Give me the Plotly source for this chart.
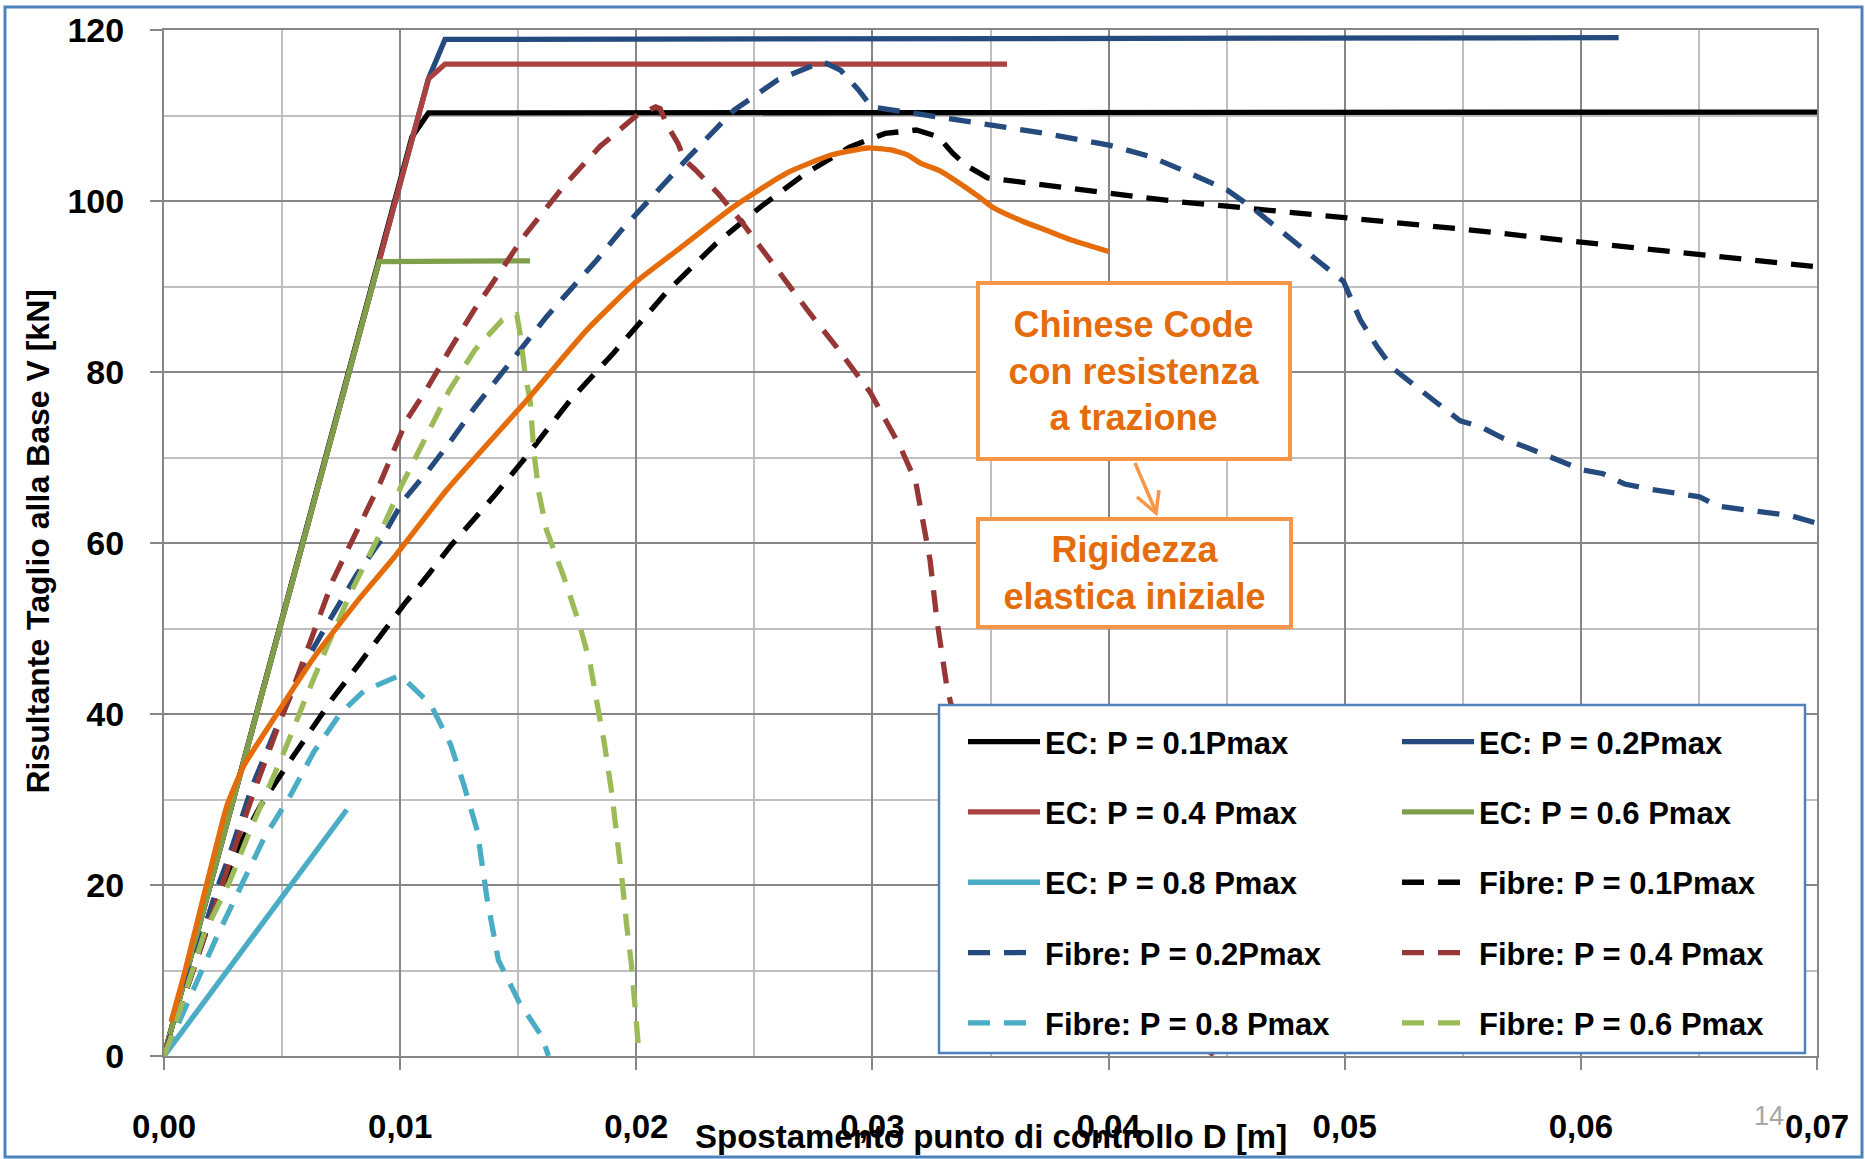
import plotly.graph_objects as go

# ---------------- data ----------------
ec01_x = [0, 0.0105, 0.0112, 0.0400, 0.0700]
ec01_y = [0, 107.5, 110.3, 110.3, 110.4]

ec02_x = [0, 0.0112, 0.0119, 0.0400, 0.0616]
ec02_y = [0, 114.3, 118.9, 119.0, 119.1]

ec04_x = [0, 0.0112, 0.0119, 0.0357]
ec04_y = [0, 114.3, 116.0, 116.0]

ec06_x = [0, 0.0091, 0.0155]
ec06_y = [0, 92.9, 93.0]

ec08_x = [0, 0.00774]
ec08_y = [0, 28.8]

f01_x = [0, 0.00113, 0.00212, 0.00313, 0.00409, 0.00515, 0.00617, 0.00716, 0.00822,
         0.0092, 0.01019, 0.01122, 0.01218, 0.01395, 0.01522, 0.0172, 0.01903, 0.0213,
         0.02337, 0.02526, 0.02715, 0.02903, 0.03054, 0.03186, 0.0328, 0.0334, 0.03394,
         0.03488, 0.03733, 0.03997, 0.04299, 0.04501, 0.05001, 0.05501, 0.06, 0.06503, 0.07]
f01_y = [0, 9.1, 17.3, 24.3, 29.3, 33.75, 38.0, 41.9, 45.7,
         49.4, 52.9, 56.4, 59.8, 65.4, 69.7, 76.7, 82.2, 89.4,
         95.0, 99.3, 103.2, 106.3, 107.9, 108.3, 107.5, 105.6, 104.2,
         102.7, 101.9, 100.9, 99.9, 99.4, 98.1, 96.7, 95.2, 93.8, 92.3]

f02_x = [0, 0.00116, 0.00222, 0.00271, 0.00374, 0.0049, 0.0061, 0.00706, 0.00815, 0.00915,
         0.01014, 0.0112, 0.01211, 0.01317, 0.01423, 0.01522, 0.01621, 0.0172, 0.01833,
         0.01931, 0.0204, 0.02129, 0.02224, 0.02413, 0.02601, 0.0279, 0.02865, 0.02941,
         0.02997, 0.03167, 0.03356, 0.03541, 0.03733, 0.04007, 0.04176, 0.04331, 0.04501,
         0.04614, 0.04741, 0.04882, 0.04995, 0.05066, 0.05136, 0.05201, 0.05376, 0.05489,
         0.05574, 0.05667, 0.0585, 0.06, 0.06094, 0.06185, 0.06292, 0.06399, 0.06503,
         0.06582, 0.06796, 0.06888, 0.07]
f02_y = [0, 10.4, 19.4, 23.0, 31.6, 39.3, 46.6, 51.2, 56.25, 60.2,
         65.0, 68.5, 71.8, 75.9, 79.6, 83.2, 86.5, 89.6, 93.1,
         96.4, 99.7, 102.5, 105.2, 110.6, 114.2, 116.3, 115.3, 113.0,
         111.0, 110.3, 109.5, 108.7, 107.9, 106.5, 105.2, 103.4, 101.3,
         99.1, 96.2, 93.1, 90.6, 86.1, 83.0, 80.5, 76.7, 74.3,
         73.6, 72.3, 70.3, 68.6, 68.1, 66.9, 66.3, 65.8, 65.4,
         64.3, 63.6, 63.2, 62.3]

f04_x = [0, 0.00092, 0.00155, 0.00254, 0.00374, 0.00476, 0.00568, 0.00716, 0.00915,
         0.01028, 0.01108, 0.01214, 0.01317, 0.01423, 0.01522, 0.01628, 0.01698, 0.01847,
         0.01997, 0.02082, 0.02101, 0.0213, 0.02177, 0.02205, 0.02252, 0.02346, 0.0245,
         0.02545, 0.02639, 0.02734, 0.02846, 0.02991, 0.03117, 0.03183, 0.03244, 0.03273,
         0.03315, 0.0336, 0.0360, 0.0400, 0.0445]
f04_y = [0, 7.5, 13.0, 20.8, 30.4, 38.0, 44.6, 55.7, 67.0,
         74.4, 77.8, 82.8, 87.4, 91.7, 95.8, 99.5, 101.9, 106.4,
         109.9, 111.0, 110.8, 108.9, 106.7, 104.8, 103.6, 100.9, 97.4,
         93.9, 90.4, 86.9, 83.0, 77.6, 71.3, 67.2, 58.0, 51.0,
         43.2, 38.0, 25.0, 10.0, 0]

f08_x = [0, 0.00134, 0.00226, 0.00325, 0.00424, 0.00536, 0.00635, 0.00748, 0.00847,
         0.00988, 0.0101, 0.0113, 0.01214, 0.0127, 0.01327, 0.01367, 0.01395, 0.01416,
         0.01504, 0.01602, 0.01628]
f08_y = [0, 8.3, 14.1, 19.8, 25.5, 30.5, 35.6, 40.1, 42.7,
         44.4, 44.3, 41.1, 36.4, 31.7, 26.3, 18.6, 14.2, 11.2,
         6.3, 2.2, 0]

f06_x = [0, 0.00028, 0.0017, 0.00278, 0.00374, 0.00497, 0.00596, 0.00695, 0.00798,
         0.00915, 0.01002, 0.01108, 0.01207, 0.01317, 0.01433, 0.01494, 0.01508, 0.01529,
         0.0155, 0.01567, 0.01588, 0.0162, 0.01691, 0.01758, 0.01804, 0.01833, 0.01864,
         0.01896, 0.01923, 0.01941, 0.01958, 0.01979, 0.01996, 0.02012]
f06_y = [0, 2.0, 14.3, 20.4, 27.0, 34.8, 41.6, 48.2, 54.6,
         61.1, 66.5, 72.4, 77.8, 82.6, 86.1, 86.7, 84.5, 79.8,
         76.7, 70.5, 65.8, 61.5, 56.2, 50.6, 46.0, 41.4, 36.7,
         30.8, 25.0, 20.3, 15.6, 10.8, 5.4, 0]

cn_x = [0.0003, 0.00085, 0.00141, 0.00198, 0.00268, 0.00339, 0.00466, 0.00635, 0.00819,
        0.00974, 0.01197, 0.01536, 0.0179, 0.02002, 0.02186, 0.02411, 0.02639, 0.02828,
        0.02979, 0.03073, 0.03148, 0.03205, 0.0328, 0.03356, 0.0345, 0.03507, 0.03638,
        0.03733, 0.03846, 0.0400]
cn_y = [4.0, 9.5, 15.7, 22.0, 29.4, 34.0, 39.5, 46.6, 53.2,
        58.3, 66.2, 76.7, 84.9, 90.6, 94.5, 99.3, 103.3, 105.4,
        106.2, 106.0, 105.4, 104.4, 103.6, 102.3, 100.5, 99.3, 97.6,
        96.6, 95.4, 94.1]

x_tickvals = [0, 0.01, 0.02, 0.03, 0.04, 0.05, 0.06, 0.07]
x_ticktext = ["0,00", "0,01", "0,02", "0,03", "0,04", "0,05", "0,06", "0,07"]
y_tickvals = [0, 20, 40, 60, 80, 100, 120]

# ---------------- styling ----------------
FONT = "Liberation Sans, Arial, sans-serif"
BLACK = "#000000"
BLUE = "#244A7E"
RED = "#AA4340"
RED_D = "#963735"
GREEN = "#7FA04A"
GREEN_L = "#9BBB59"
CYAN = "#4BACC6"
ORANGE = "#E46C0A"
ORANGE_L = "#F79646"
FRAME = "#4F81BD"
W = 5.3
DASH = "22px,14px"

series = [
    ("EC: P = 0.1Pmax", ec01_x, ec01_y, BLACK, "solid", "legend"),
    ("EC: P = 0.2Pmax", ec02_x, ec02_y, BLUE, "solid", "legend2"),
    ("EC: P = 0.4 Pmax", ec04_x, ec04_y, RED, "solid", "legend"),
    ("EC: P = 0.6 Pmax", ec06_x, ec06_y, GREEN, "solid", "legend2"),
    ("EC: P = 0.8 Pmax", ec08_x, ec08_y, CYAN, "solid", "legend"),
    ("Fibre: P = 0.1Pmax", f01_x, f01_y, BLACK, DASH, "legend2"),
    ("Fibre: P = 0.2Pmax", f02_x, f02_y, BLUE, DASH, "legend"),
    ("Fibre: P = 0.4 Pmax", f04_x, f04_y, RED_D, DASH, "legend2"),
    ("Fibre: P = 0.8 Pmax", f08_x, f08_y, CYAN, DASH, "legend"),
    ("Fibre: P = 0.6 Pmax", f06_x, f06_y, GREEN_L, DASH, "legend2"),
]

fig = go.Figure()
for name, xs, ys, col, dash, leg in series:
    fig.add_trace(go.Scatter(
        x=xs, y=ys, mode="lines", name=name, legend=leg, legendgroup=name,
        line=dict(color=col, width=W, dash=dash),
        hoverinfo="skip"))

fig.add_trace(go.Scatter(
    x=cn_x, y=cn_y, mode="lines", name="Chinese Code", showlegend=False,
    line=dict(color=ORANGE, width=W, shape="spline", smoothing=0.5), hoverinfo="skip"))

L, R, T, B = 164, 48, 30, 103
WIDTH, HEIGHT = 1865, 1159
PW, PH = WIDTH - L - R, HEIGHT - T - B


def px_x(p):
    return (p - L) / PW


def px_y(p):
    return (HEIGHT - B - p) / PH


legfont = dict(family=FONT, size=31, color="black", weight="bold")
leg_common = dict(font=legfont, bgcolor="rgba(0,0,0,0)", borderwidth=0,
                  tracegroupgap=27, itemwidth=72, xanchor="left", yanchor="top",
                  orientation="v")

fig.update_layout(
    width=WIDTH, height=HEIGHT,
    margin=dict(l=L, r=R, t=T, b=B, pad=0),
    paper_bgcolor="white", plot_bgcolor="white",
    font=dict(family=FONT, color="black"),
    legend=dict(x=px_x(963), y=px_y(715), **leg_common),
    legend2=dict(x=px_x(1397), y=px_y(715), **leg_common),
    xaxis=dict(
        range=[0, 0.07], tickvals=x_tickvals, ticktext=x_ticktext,
        showgrid=True, gridcolor="#868686", gridwidth=2,
        minor=dict(dtick=0.005, tick0=0, showgrid=True, gridcolor="#BFBFBF", gridwidth=1.6),
        showline=True, linecolor="#868686", linewidth=2, mirror=True,
        ticks="outside", ticklen=12, tickwidth=2, tickcolor="#868686",
        tickfont=dict(family=FONT, size=33, color="black", weight="bold"),
        ticklabelstandoff=28, zeroline=False, automargin=False,
    ),
    yaxis=dict(
        range=[0, 120], tickvals=y_tickvals,
        showgrid=True, gridcolor="#868686", gridwidth=2,
        minor=dict(dtick=10, tick0=0, showgrid=True, gridcolor="#BFBFBF", gridwidth=1.6),
        showline=True, linecolor="#868686", linewidth=2, mirror=True,
        ticks="outside", ticklen=12, tickwidth=2, tickcolor="#868686",
        tickfont=dict(family=FONT, size=34, color="black", weight="bold"),
        ticklabelstandoff=19, zeroline=False, automargin=False,
    ),
    showlegend=True,
)

shapes = [
    # outer chart frame
    dict(type="rect", xref="paper", yref="paper",
         x0=px_x(5), x1=px_x(1862), y0=px_y(1157), y1=px_y(7),
         line=dict(color=FRAME, width=3), fillcolor="rgba(0,0,0,0)", layer="below"),
    # legend frame (white box covering the curves)
    dict(type="rect", xref="paper", yref="paper",
         x0=px_x(939), x1=px_x(1805), y0=px_y(1053), y1=px_y(705),
         line=dict(color=FRAME, width=2.5), fillcolor="white", layer="above"),
    # arrow between the two callouts
    dict(type="line", xref="paper", yref="paper",
         x0=px_x(1135), y0=px_y(463), x1=px_x(1156), y1=px_y(512),
         line=dict(color=ORANGE_L, width=3.5), layer="above"),
    dict(type="path", xref="paper", yref="paper",
         path="M {:.5f},{:.5f} L {:.5f},{:.5f} L {:.5f},{:.5f}".format(
             px_x(1137), px_y(497), px_x(1156), px_y(513), px_x(1159), px_y(490)),
         line=dict(color=ORANGE_L, width=3.5), layer="above"),
]
fig.update_layout(shapes=shapes)

ann_font = dict(family=FONT, size=36, color=ORANGE, weight="bold")
annotations = [
    dict(xref="paper", yref="paper", x=px_x(1134), y=px_y(371),
         text="Chinese Code<br>con resistenza<br>a trazione", showarrow=False,
         font=ann_font, align="center", bgcolor="white",
         bordercolor=ORANGE_L, borderwidth=4, borderpad=0, width=308, height=172,
         xanchor="center", yanchor="middle"),
    dict(xref="paper", yref="paper", x=px_x(1134.5), y=px_y(573),
         text="Rigidezza<br>elastica iniziale", showarrow=False,
         font=ann_font, align="center", bgcolor="white",
         bordercolor=ORANGE_L, borderwidth=4, borderpad=0, width=309, height=104,
         xanchor="center", yanchor="middle"),
    dict(xref="paper", yref="paper", x=0.5, y=px_y(1136),
         text="Spostamento punto di controllo D [m]", showarrow=False,
         font=dict(family=FONT, size=33, color="black", weight="bold"),
         xanchor="center", yanchor="middle"),
    dict(xref="paper", yref="paper", x=px_x(37.5), y=px_y(542),
         text="Risultante Taglio alla Base V [kN]", showarrow=False, textangle=-90,
         font=dict(family=FONT, size=32, color="black", weight="bold"),
         xanchor="center", yanchor="middle"),
    dict(xref="paper", yref="paper", x=px_x(1769), y=px_y(1116),
         text="14", showarrow=False,
         font=dict(family=FONT, size=27, color="#A6A6A6"),
         xanchor="center", yanchor="middle"),
]
fig.update_layout(annotations=annotations)

fig.write_html("out.html")
